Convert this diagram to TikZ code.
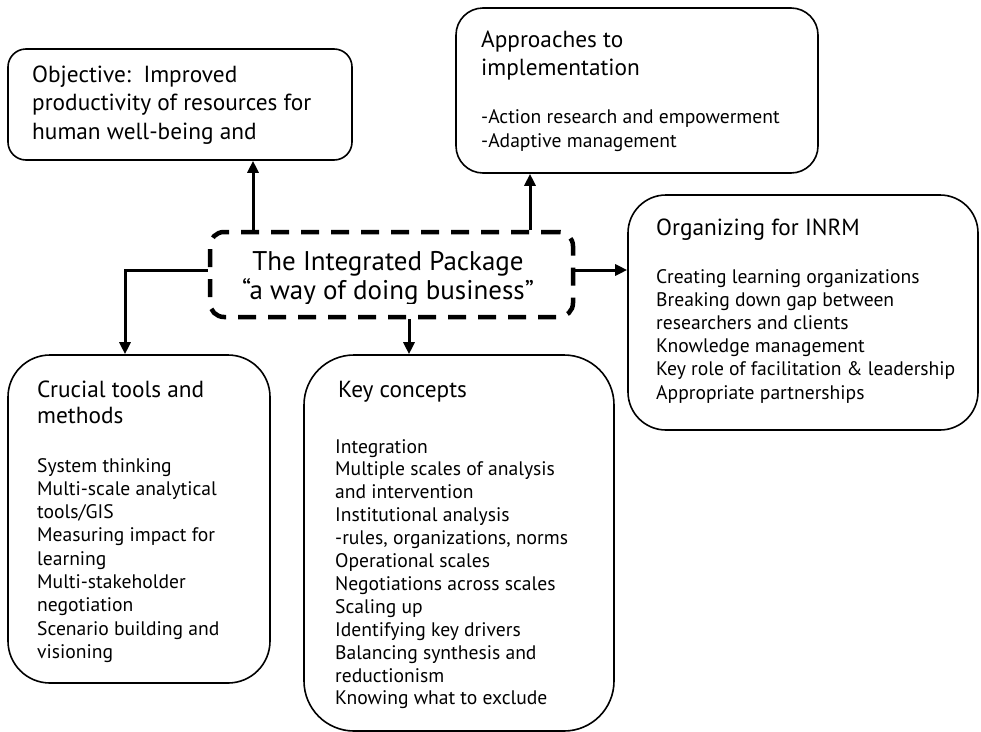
\documentclass[tikz,border=0pt]{standalone}
\usepackage{fontspec}
\setmainfont{PT Sans}
\usetikzlibrary{arrows.meta}
% multi-line text block whose reference point is the first baseline
\newcommand{\txtblock}[3]{\parbox[t]{420pt}{\fontsize{#1}{#2}\selectfont #3}}
\newcommand{\ctrblock}[3]{\parbox[t]{420pt}{\centering\fontsize{#1}{#2}\selectfont #3}}
\begin{document}
\begin{tikzpicture}[x=1pt,y=-1pt,
  box/.style={draw=black, line width=1.6pt, inner sep=0pt, fill=white},
  hub/.style={draw=black, line width=4.5pt, dash pattern=on 18pt off 12pt, inner sep=0pt,
    minimum width=363pt, minimum height=85pt, rounded corners=14pt},
  txt/.style={anchor=base west, inner sep=0pt},
  link/.style={line width=3pt, -{Triangle[length=12pt,width=11pt]}},
]
\useasboundingbox[fill=white] (0,0) rectangle (981,731);

% surrounding boxes
\node[box, minimum width=344pt, minimum height=111pt, rounded corners=18pt] (obj) at (180,104.5) {};
\node[box, minimum width=362pt, minimum height=165pt, rounded corners=27pt] (app) at (637,90.5) {};
\node[box, minimum width=350pt, minimum height=235pt, rounded corners=38pt] (org) at (803,312.5) {};
\node[box, minimum width=262pt, minimum height=328pt, rounded corners=42pt] (cru) at (139,519) {};
\node[box, minimum width=310pt, minimum height=376pt, rounded corners=50pt] (key) at (459,543) {};

% central package
\node[hub] (cen) at (391.5,274.5) {};

% connector positions
\coordinate (ax1) at (253,0);
\coordinate (ax2) at (530,0);
\coordinate (ax3) at (125,0);
\coordinate (ax4) at (409,0);
\coordinate (ay) at (0,270);

\draw[link] (cen.north -| ax1) -- (obj.south -| ax1);
\draw[link] (cen.north -| ax2) -- (app.south -| ax2);
\draw[link] (cen.west |- ay) -| (cru.north -| ax3);
\draw[link] (cen.east |- ay) -- (org.west |- ay);
\draw[link] (cen.south -| ax4) -- (key.north -| ax4);

% texts
\node[txt] (objt) at (32,82) {\txtblock{23.3}{28.5}{Objective:\ \ Improved\\productivity of resources for\\human well-being and}};

\node[txt] (appt) at (481,47) {\txtblock{23.3}{28}{Approaches to\\implementation}};
\node[txt] (appb) at (481,123) {\txtblock{19.6}{24}{-Action research and empowerment\\-Adaptive management}};

\node[txt] (orgt) at (656,235) {\txtblock{23.3}{28}{Organizing for INRM}};
\node[txt] (orgb) at (656,283) {\txtblock{19.6}{23.2}{Creating learning organizations\\Breaking down gap between\\researchers and clients\\Knowledge management\\Key role of facilitation \& leadership\\Appropriate partnerships}};

\node[txt] (crut) at (37,397) {\txtblock{23.3}{26.5}{Crucial tools and\\methods}};
\node[txt] (crub) at (37,472) {\txtblock{19.6}{23.3}{System thinking\\Multi-scale analytical\\tools/GIS\\Measuring impact for\\learning\\Multi-stakeholder\\negotiation\\Scenario building and\\visioning}};

\node[txt] (keyt) at (338,397) {\txtblock{23.3}{28}{Key concepts}};
\begin{scope}
  \clip (0,0) rectangle (981,710);
  \node[txt] (keyb) at (335,453) {\txtblock{19.6}{22.9}{Integration\\Multiple scales of analysis\\and intervention\\Institutional analysis\\-rules, organizations, norms\\Operational scales\\Negotiations across scales\\Scaling up\\Identifying key drivers\\Balancing synthesis and\\reductionism\\Knowing what to exclude}};
\end{scope}

\begin{scope}
  \clip (cen.north west) rectangle (cen.east |- 0,303);
  \node[anchor=base, inner sep=0pt] (cent) at (388,270) {\ctrblock{27}{29.5}{The Integrated Package\\``a way of doing business''}};
\end{scope}
\end{tikzpicture}
\end{document}
